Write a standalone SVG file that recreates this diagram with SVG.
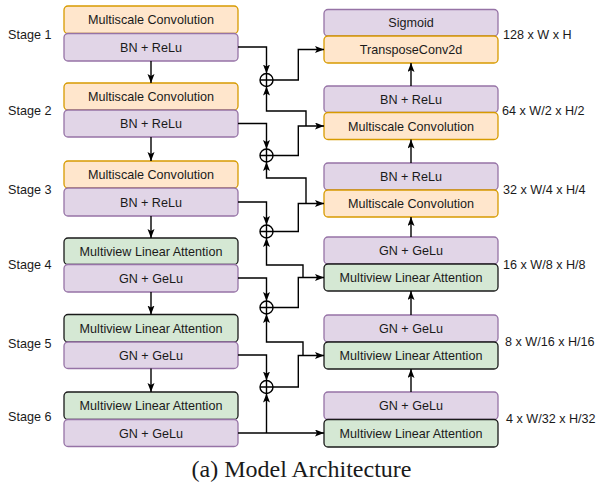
<svg xmlns="http://www.w3.org/2000/svg" width="598" height="489" viewBox="0 0 598 489">
<style>
.o{fill:#ffe6cc;stroke:#d79b00;stroke-width:1.3}
.p{fill:#e1d5e7;stroke:#9673a6;stroke-width:1.3}
.g{fill:#d5e8d4;stroke:#1a1a1a;stroke-width:1.3}
.t{font-family:"Liberation Sans",Arial,sans-serif;font-size:12.6px;fill:#1a1a1a;text-anchor:middle}
.l{font-family:"Liberation Sans",Arial,sans-serif;font-size:12.6px;fill:#1a1a1a}
.c{fill:none;stroke:#000;stroke-width:1.4}
.a{fill:none;stroke:#000;stroke-width:1.4;marker-end:url(#ar)}
</style>
<defs>
<marker id="ar" markerUnits="userSpaceOnUse" markerWidth="10" markerHeight="8" refX="9" refY="3.5" orient="auto">
<path d="M0,0 L9,3.5 L0,7 L2,3.5 z" fill="#000"/>
</marker>
</defs>
<rect width="598" height="489" fill="#fff"/>

<g id="stage-labels">
<text class="l" x="8" y="38.5">Stage 1</text>
<text class="l" x="8" y="114.5">Stage 2</text>
<text class="l" x="8" y="193.5">Stage 3</text>
<text class="l" x="8" y="268.5">Stage 4</text>
<text class="l" x="8" y="347.5">Stage 5</text>
<text class="l" x="8" y="420.5">Stage 6</text>
</g>

<g id="size-labels">
<text class="l" x="503" y="38.5">128 x W x H</text>
<text class="l" x="502" y="114.5">64 x W/2 x H/2</text>
<text class="l" x="503" y="193.5">32 x W/4 x H/4</text>
<text class="l" x="503" y="268.5">16 x W/8 x H/8</text>
<text class="l" x="505" y="345.5">8 x W/16 x H/16</text>
<text class="l" x="506" y="422.5">4 x W/32 x H/32</text>
</g>

<g id="enc1">
<rect class="o" x="64" y="6" width="174" height="27.5" rx="4"/>
<text class="t" x="151" y="24.2">Multiscale Convolution</text>
<rect class="p" x="64" y="33.5" width="174" height="27.5" rx="4"/>
<text class="t" x="151" y="51.7">BN + ReLu</text>
</g>
<g id="enc2">
<rect class="o" x="64" y="83" width="174" height="27" rx="4"/>
<text class="t" x="151" y="101">Multiscale Convolution</text>
<rect class="p" x="64" y="110" width="174" height="27" rx="4"/>
<text class="t" x="151" y="128">BN + ReLu</text>
</g>
<g id="enc3">
<rect class="o" x="64" y="161" width="174" height="27" rx="4"/>
<text class="t" x="151" y="179">Multiscale Convolution</text>
<rect class="p" x="64" y="188" width="174" height="28" rx="4"/>
<text class="t" x="151" y="206.5">BN + ReLu</text>
</g>
<g id="enc4">
<rect class="g" x="64" y="238" width="174" height="26.5" rx="4"/>
<text class="t" x="151" y="255.7">Multiview Linear Attention</text>
<rect class="p" x="64" y="264.5" width="174" height="27.5" rx="4"/>
<text class="t" x="151" y="282.7">GN + GeLu</text>
</g>
<g id="enc5">
<rect class="g" x="64" y="314.5" width="174" height="27.5" rx="4"/>
<text class="t" x="151" y="332.7">Multiview Linear Attention</text>
<rect class="p" x="64" y="342" width="174" height="26.5" rx="4"/>
<text class="t" x="151" y="359.7">GN + GeLu</text>
</g>
<g id="enc6">
<rect class="g" x="64" y="392" width="174" height="27.5" rx="4"/>
<text class="t" x="151" y="410.2">Multiview Linear Attention</text>
<rect class="p" x="64" y="419.5" width="174" height="27" rx="4"/>
<text class="t" x="151" y="437.5">GN + GeLu</text>
</g>

<g id="dec1">
<rect class="p" x="324" y="9.5" width="174" height="26.5" rx="4"/>
<text class="t" x="411" y="27.2">Sigmoid</text>
<rect class="o" x="324" y="36" width="174" height="27" rx="4"/>
<text class="t" x="411" y="54">TransposeConv2d</text>
</g>
<g id="dec2">
<rect class="p" x="324" y="86" width="174" height="26.5" rx="4"/>
<text class="t" x="411" y="103.7">BN + ReLu</text>
<rect class="o" x="324" y="112.5" width="174" height="27" rx="4"/>
<text class="t" x="411" y="130.5">Multiscale Convolution</text>
</g>
<g id="dec3">
<rect class="p" x="324" y="163" width="174" height="27" rx="4"/>
<text class="t" x="411" y="181">BN + ReLu</text>
<rect class="o" x="324" y="190" width="174" height="27" rx="4"/>
<text class="t" x="411" y="208">Multiscale Convolution</text>
</g>
<g id="dec4">
<rect class="p" x="324" y="237" width="174" height="27" rx="4"/>
<text class="t" x="411" y="255">GN + GeLu</text>
<rect class="g" x="324" y="264" width="174" height="27" rx="4"/>
<text class="t" x="411" y="282">Multiview Linear Attention</text>
</g>
<g id="dec5">
<rect class="p" x="324" y="315" width="174" height="27" rx="4"/>
<text class="t" x="411" y="333">GN + GeLu</text>
<rect class="g" x="324" y="342" width="174" height="27" rx="4"/>
<text class="t" x="411" y="360">Multiview Linear Attention</text>
</g>
<g id="dec6">
<rect class="p" x="324" y="392" width="174" height="27.5" rx="4"/>
<text class="t" x="411" y="410.2">GN + GeLu</text>
<rect class="g" x="324" y="419.5" width="174" height="27.5" rx="4"/>
<text class="t" x="411" y="437.7">Multiview Linear Attention</text>
</g>

<g id="adders">
<g id="add1"><circle class="c" cx="266.5" cy="80" r="6.5" fill="#fff"/><path class="c" d="M260,80 H273 M266.5,73.5 V86.5"/></g>
<g id="add2"><circle class="c" cx="266.5" cy="155.5" r="6.5" fill="#fff"/><path class="c" d="M260,155.5 H273 M266.5,149 V162"/></g>
<g id="add3"><circle class="c" cx="266.5" cy="231.5" r="6.5" fill="#fff"/><path class="c" d="M260,231.5 H273 M266.5,225 V238"/></g>
<g id="add4"><circle class="c" cx="266.5" cy="307.5" r="6.5" fill="#fff"/><path class="c" d="M260,307.5 H273 M266.5,301 V314"/></g>
<g id="add5"><circle class="c" cx="266.5" cy="387" r="6.5" fill="#fff"/><path class="c" d="M260,387 H273 M266.5,380.5 V393.5"/></g>
</g>

<g id="connectors">
<path class="a" d="M151,61 V83"/>
<path class="a" d="M151,137 V161"/>
<path class="a" d="M151,216 V238"/>
<path class="a" d="M151,292 V314.5"/>
<path class="a" d="M151,368.5 V392"/>

<path class="a" d="M411,86 V63"/>
<path class="a" d="M411,163 V139.5"/>
<path class="a" d="M411,237 V217"/>
<path class="a" d="M411,315 V291"/>
<path class="a" d="M411,392 V369"/>

<path class="a" d="M238,47 H266.5 V73.5"/>
<path class="a" d="M273,80 H298.3 V49.5 H324"/>
<path class="a" d="M306,126 V111 H266.5 V86.5"/>

<path class="a" d="M238,123.5 H266.5 V149"/>
<path class="a" d="M273,155.5 H298.3 V126 H324"/>
<path class="a" d="M306,203.5 V178 H266.5 V162"/>

<path class="a" d="M238,202 H266.5 V225"/>
<path class="a" d="M273,231.5 H298.3 V203.5 H324"/>
<path class="a" d="M303,277.5 V265 H266.5 V238"/>

<path class="a" d="M238,278 H266.5 V301"/>
<path class="a" d="M273,307.5 H298.3 V277.5 H324"/>
<path class="a" d="M303,355.5 V342 H266.5 V314"/>

<path class="a" d="M238,355 H266.5 V380.5"/>
<path class="a" d="M273,387 H298.3 V355.5 H324"/>

<path class="a" d="M238,433 H324"/>
<path class="a" d="M266.5,433 V393.5"/>
</g>

<text x="301.5" y="477" font-family="'Liberation Serif','Times New Roman',serif" font-size="24" fill="#1a1a1a" text-anchor="middle">(a) Model Architecture</text>
</svg>
